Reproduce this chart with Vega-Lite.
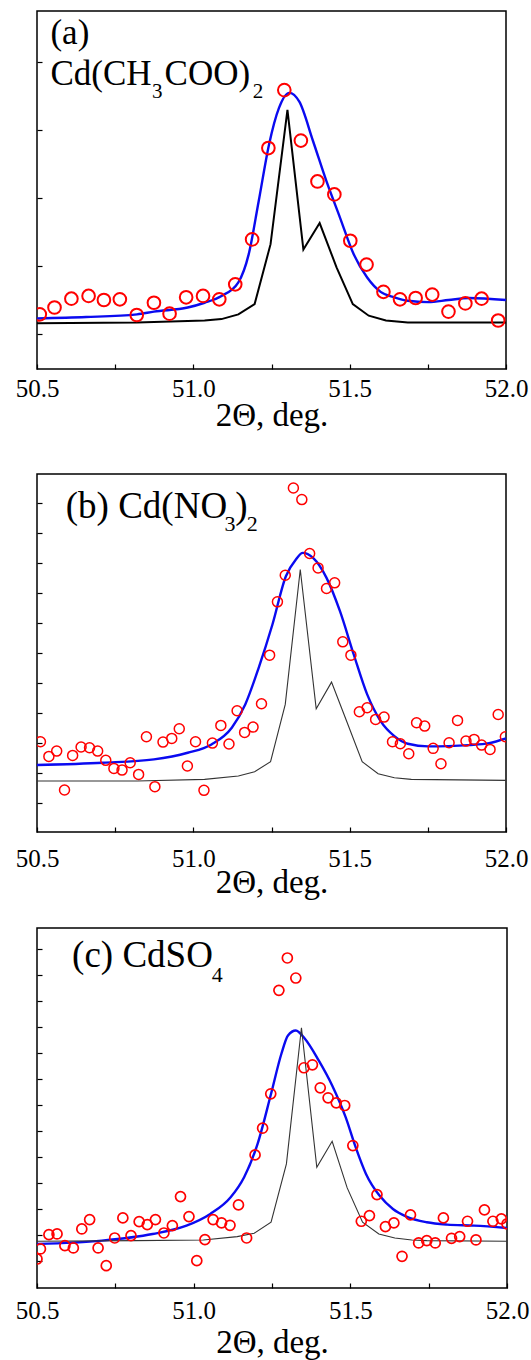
{
  "$schema": "https://vega.github.io/schema/vega-lite/v6.json",
  "background": "white",
  "padding": {"left": 14, "top": 10, "right": 0, "bottom": 0},
  "spacing": 105,
  "bounds": "flush",
  "config": {
    "font": "Liberation Serif, Times New Roman, serif",
    "view": {"stroke": "black", "strokeWidth": 1.5},
    "text": {"font": "Liberation Serif, Times New Roman, serif"},
    "axis": {"domain": false, "grid": false, "tickColor": "black", "tickWidth": 1.2,
      "labelFont": "Liberation Serif, Times New Roman, serif", "labelFontSize": 25, "labelColor": "black",
      "titleFont": "Liberation Serif, Times New Roman, serif", "titleFontSize": 33, "titleFontWeight": "normal", "titleColor": "black"}
  },
  "datasets": {
    "a_obs": [
      {"x": 50.509, "y": 0.29}, {"x": 50.556, "y": 0.39}, {"x": 50.610, "y": 0.52}, {"x": 50.665, "y": 0.56},
      {"x": 50.714, "y": 0.50}, {"x": 50.765, "y": 0.51}, {"x": 50.819, "y": 0.28}, {"x": 50.874, "y": 0.46},
      {"x": 50.924, "y": 0.30}, {"x": 50.977, "y": 0.54}, {"x": 51.031, "y": 0.56}, {"x": 51.083, "y": 0.51},
      {"x": 51.134, "y": 0.73}, {"x": 51.188, "y": 1.39}, {"x": 51.240, "y": 2.73}, {"x": 51.291, "y": 3.58},
      {"x": 51.344, "y": 2.84}, {"x": 51.397, "y": 2.24}, {"x": 51.451, "y": 2.05}, {"x": 51.502, "y": 1.37},
      {"x": 51.554, "y": 1.02}, {"x": 51.608, "y": 0.62}, {"x": 51.661, "y": 0.51}, {"x": 51.711, "y": 0.53},
      {"x": 51.764, "y": 0.58}, {"x": 51.816, "y": 0.33}, {"x": 51.870, "y": 0.45}, {"x": 51.922, "y": 0.52},
      {"x": 51.975, "y": 0.20}
    ],
    "a_fit": [
      {"x": 50.5, "y": 0.23}, {"x": 50.657, "y": 0.25}, {"x": 50.82, "y": 0.29}, {"x": 50.874, "y": 0.33},
      {"x": 50.982, "y": 0.39}, {"x": 51.036, "y": 0.46}, {"x": 51.090, "y": 0.56}, {"x": 51.144, "y": 0.76},
      {"x": 51.177, "y": 1.17}, {"x": 51.209, "y": 1.95}, {"x": 51.242, "y": 2.78}, {"x": 51.274, "y": 3.32},
      {"x": 51.307, "y": 3.54}, {"x": 51.339, "y": 3.41}, {"x": 51.383, "y": 2.83}, {"x": 51.426, "y": 2.24},
      {"x": 51.469, "y": 1.71}, {"x": 51.513, "y": 1.17}, {"x": 51.556, "y": 0.83}, {"x": 51.599, "y": 0.62},
      {"x": 51.643, "y": 0.54}, {"x": 51.686, "y": 0.49}, {"x": 51.751, "y": 0.47}, {"x": 51.816, "y": 0.50},
      {"x": 51.881, "y": 0.53}, {"x": 52.0, "y": 0.50}
    ],
    "a_calc": [
      {"x": 50.5, "y": 0.16}, {"x": 50.82, "y": 0.17}, {"x": 51.036, "y": 0.20}, {"x": 51.090, "y": 0.22},
      {"x": 51.144, "y": 0.29}, {"x": 51.196, "y": 0.44}, {"x": 51.247, "y": 1.32}, {"x": 51.301, "y": 3.29},
      {"x": 51.352, "y": 1.24}, {"x": 51.404, "y": 1.63}, {"x": 51.458, "y": 0.98}, {"x": 51.510, "y": 0.44},
      {"x": 51.561, "y": 0.27}, {"x": 51.616, "y": 0.20}, {"x": 51.686, "y": 0.17}, {"x": 52.0, "y": 0.17}
    ],
    "a_lab": [
      {"x": 50.543, "y": 4.254, "t": "(a)"},
      {"x": 50.543, "y": 3.659, "t": "Cd(CH"},
      {"x": 50.908, "y": 3.659, "t": "COO)"}
    ],
    "a_sub": [
      {"x": 50.868, "y": 3.463, "t": "3"},
      {"x": 51.190, "y": 3.463, "t": "2"}
    ],
    "b_obs": [
      {"x": 50.511, "y": 0.517}, {"x": 50.538, "y": 0.272}, {"x": 50.563, "y": 0.361}, {"x": 50.588, "y": -0.289},
      {"x": 50.614, "y": 0.289}, {"x": 50.641, "y": 0.428}, {"x": 50.668, "y": 0.417}, {"x": 50.694, "y": 0.361},
      {"x": 50.720, "y": 0.206}, {"x": 50.746, "y": 0.072}, {"x": 50.772, "y": 0.044}, {"x": 50.798, "y": 0.167},
      {"x": 50.825, "y": -0.028}, {"x": 50.850, "y": 0.600}, {"x": 50.877, "y": -0.233}, {"x": 50.903, "y": 0.511},
      {"x": 50.931, "y": 0.572}, {"x": 50.955, "y": 0.733}, {"x": 50.981, "y": 0.111}, {"x": 51.007, "y": 0.517},
      {"x": 51.034, "y": -0.294}, {"x": 51.061, "y": 0.494}, {"x": 51.088, "y": 0.789}, {"x": 51.114, "y": 0.478},
      {"x": 51.140, "y": 1.033}, {"x": 51.164, "y": 0.672}, {"x": 51.191, "y": 0.761}, {"x": 51.218, "y": 1.150},
      {"x": 51.244, "y": 1.961}, {"x": 51.269, "y": 2.850}, {"x": 51.294, "y": 3.294}, {"x": 51.320, "y": 4.750},
      {"x": 51.347, "y": 4.556}, {"x": 51.372, "y": 3.656}, {"x": 51.399, "y": 3.417}, {"x": 51.426, "y": 3.072},
      {"x": 51.452, "y": 3.167}, {"x": 51.478, "y": 2.183}, {"x": 51.504, "y": 1.961}, {"x": 51.531, "y": 1.017},
      {"x": 51.556, "y": 1.083}, {"x": 51.583, "y": 0.889}, {"x": 51.610, "y": 0.928}, {"x": 51.637, "y": 0.517},
      {"x": 51.662, "y": 0.483}, {"x": 51.689, "y": 0.317}, {"x": 51.714, "y": 0.833}, {"x": 51.740, "y": 0.778},
      {"x": 51.767, "y": 0.406}, {"x": 51.792, "y": 0.150}, {"x": 51.818, "y": 0.500}, {"x": 51.845, "y": 0.872},
      {"x": 51.872, "y": 0.528}, {"x": 51.898, "y": 0.556}, {"x": 51.922, "y": 0.461}, {"x": 51.949, "y": 0.389},
      {"x": 51.975, "y": 0.972}, {"x": 51.998, "y": 0.600}
    ],
    "b_fit": [
      {"x": 50.5, "y": 0.128}, {"x": 50.711, "y": 0.167}, {"x": 50.874, "y": 0.222}, {"x": 50.982, "y": 0.333},
      {"x": 51.058, "y": 0.472}, {"x": 51.123, "y": 0.750}, {"x": 51.166, "y": 1.139}, {"x": 51.209, "y": 1.750},
      {"x": 51.253, "y": 2.472}, {"x": 51.296, "y": 3.278}, {"x": 51.328, "y": 3.556}, {"x": 51.350, "y": 3.667},
      {"x": 51.383, "y": 3.583}, {"x": 51.426, "y": 3.250}, {"x": 51.469, "y": 2.694}, {"x": 51.513, "y": 1.972},
      {"x": 51.556, "y": 1.306}, {"x": 51.599, "y": 0.861}, {"x": 51.643, "y": 0.611}, {"x": 51.686, "y": 0.483},
      {"x": 51.751, "y": 0.439}, {"x": 51.816, "y": 0.444}, {"x": 51.881, "y": 0.461}, {"x": 51.946, "y": 0.494},
      {"x": 52.0, "y": 0.572}
    ],
    "b_calc": [
      {"x": 50.5, "y": -0.139}, {"x": 50.82, "y": -0.139}, {"x": 51.036, "y": -0.111}, {"x": 51.144, "y": -0.056},
      {"x": 51.196, "y": 0.017}, {"x": 51.247, "y": 0.183}, {"x": 51.294, "y": 1.139}, {"x": 51.342, "y": 3.389},
      {"x": 51.393, "y": 1.067}, {"x": 51.442, "y": 1.511}, {"x": 51.491, "y": 0.850}, {"x": 51.540, "y": 0.183},
      {"x": 51.591, "y": -0.017}, {"x": 51.643, "y": -0.083}, {"x": 51.697, "y": -0.111}, {"x": 52.0, "y": -0.128}
    ],
    "b_lab": [
      {"x": 50.592, "y": 4.25, "t": "(b) Cd(NO"},
      {"x": 51.134, "y": 4.25, "t": ")"}
    ],
    "b_sub": [
      {"x": 51.100, "y": 4.028, "t": "3"},
      {"x": 51.171, "y": 4.028, "t": "2"}
    ],
    "c_obs": [
      {"x": 50.500, "y": -0.462},
      {"x": 50.511, "y": -0.269}, {"x": 50.538, "y": 0.006}, {"x": 50.564, "y": 0.019}, {"x": 50.589, "y": -0.205},
      {"x": 50.616, "y": -0.250}, {"x": 50.643, "y": 0.115}, {"x": 50.668, "y": 0.295}, {"x": 50.695, "y": -0.250},
      {"x": 50.721, "y": -0.590}, {"x": 50.748, "y": -0.058}, {"x": 50.774, "y": 0.327}, {"x": 50.800, "y": -0.013},
      {"x": 50.826, "y": 0.256}, {"x": 50.852, "y": 0.199}, {"x": 50.878, "y": 0.295}, {"x": 50.905, "y": 0.038},
      {"x": 50.932, "y": 0.179}, {"x": 50.958, "y": 0.737}, {"x": 50.985, "y": 0.353}, {"x": 51.010, "y": -0.494},
      {"x": 51.036, "y": -0.090}, {"x": 51.062, "y": 0.295}, {"x": 51.089, "y": 0.231}, {"x": 51.116, "y": 0.186},
      {"x": 51.143, "y": 0.577}, {"x": 51.169, "y": -0.058}, {"x": 51.196, "y": 1.538}, {"x": 51.220, "y": 2.051},
      {"x": 51.246, "y": 2.712}, {"x": 51.272, "y": 4.699}, {"x": 51.299, "y": 5.321}, {"x": 51.326, "y": 4.936},
      {"x": 51.352, "y": 3.212}, {"x": 51.379, "y": 3.269}, {"x": 51.404, "y": 2.827}, {"x": 51.429, "y": 2.635},
      {"x": 51.455, "y": 2.538}, {"x": 51.482, "y": 2.487}, {"x": 51.508, "y": 1.718}, {"x": 51.535, "y": 0.263},
      {"x": 51.561, "y": 0.372}, {"x": 51.585, "y": 0.776}, {"x": 51.612, "y": 0.160}, {"x": 51.639, "y": 0.231},
      {"x": 51.665, "y": -0.410}, {"x": 51.692, "y": 0.385}, {"x": 51.718, "y": -0.154}, {"x": 51.744, "y": -0.109},
      {"x": 51.771, "y": -0.154}, {"x": 51.797, "y": 0.327}, {"x": 51.823, "y": -0.064}, {"x": 51.849, "y": -0.032},
      {"x": 51.874, "y": 0.263}, {"x": 51.901, "y": -0.096}, {"x": 51.928, "y": 0.481}, {"x": 51.955, "y": 0.263},
      {"x": 51.982, "y": 0.308}, {"x": 52.0, "y": 0.212}
    ],
    "c_fit": [
      {"x": 50.5, "y": -0.173}, {"x": 50.707, "y": -0.109}, {"x": 50.869, "y": 0.019}, {"x": 50.977, "y": 0.179},
      {"x": 51.053, "y": 0.404}, {"x": 51.118, "y": 0.724}, {"x": 51.161, "y": 1.109}, {"x": 51.204, "y": 1.750},
      {"x": 51.247, "y": 2.712}, {"x": 51.280, "y": 3.481}, {"x": 51.301, "y": 3.833}, {"x": 51.326, "y": 3.929},
      {"x": 51.355, "y": 3.769}, {"x": 51.399, "y": 3.353}, {"x": 51.442, "y": 2.872}, {"x": 51.485, "y": 2.263},
      {"x": 51.517, "y": 1.686}, {"x": 51.550, "y": 1.173}, {"x": 51.593, "y": 0.756}, {"x": 51.636, "y": 0.500},
      {"x": 51.679, "y": 0.353}, {"x": 51.744, "y": 0.244}, {"x": 51.809, "y": 0.199}, {"x": 51.895, "y": 0.179},
      {"x": 52.0, "y": 0.135}
    ],
    "c_calc": [
      {"x": 50.5, "y": -0.122}, {"x": 50.815, "y": -0.109}, {"x": 51.031, "y": -0.096}, {"x": 51.139, "y": -0.032},
      {"x": 51.193, "y": 0.032}, {"x": 51.247, "y": 0.244}, {"x": 51.296, "y": 1.365}, {"x": 51.344, "y": 3.981},
      {"x": 51.393, "y": 1.301}, {"x": 51.442, "y": 1.801}, {"x": 51.490, "y": 0.904}, {"x": 51.539, "y": 0.244},
      {"x": 51.591, "y": 0.019}, {"x": 51.642, "y": -0.058}, {"x": 51.696, "y": -0.096}, {"x": 51.744, "y": -0.109},
      {"x": 52.0, "y": -0.122}
    ],
    "c_lab": [
      {"x": 50.612, "y": 5.147, "t": "(c) CdSO"}
    ],
    "c_sub": [
      {"x": 51.058, "y": 4.859, "t": "4"}
    ]
  },
  "vconcat": [
    {
      "width": 469, "height": 358,
      "encoding": {
        "x": {"field": "x", "type": "quantitative",
          "scale": {"domain": [50.5, 52.0], "nice": false, "zero": false},
          "axis": {"values": [50.5, 50.75, 51.0, 51.25, 51.5, 51.75, 52.0],
            "labelExpr": "(round(datum.value*4) % 2 == 0) ? format(datum.value, '.1f') : ''",
            "tickSize": -5, "labelPadding": 12, "titlePadding": -2, "labelOverlap": false, "labelFlush": false,
            "title": "2Θ, deg."}},
        "y": {"field": "y", "type": "quantitative",
          "scale": {"domain": [-0.512, 4.741], "nice": false, "zero": false},
          "axis": {"values": [0, 1, 2, 3, 4], "labels": false, "tickSize": -5, "title": null}}
      },
      "layer": [
        {"data": {"name": "a_fit"}, "mark": {"type": "line", "color": "#0a0af0", "strokeWidth": 2.4, "interpolate": "monotone", "clip": true}},
        {"data": {"name": "a_calc"}, "mark": {"type": "line", "color": "black", "strokeWidth": 2, "clip": true}},
        {"data": {"name": "a_obs"}, "mark": {"type": "point", "shape": "circle", "filled": false, "color": "#ff0000", "strokeWidth": 2, "size": 160, "opacity": 1, "clip": true}},
        {"data": {"name": "a_lab"}, "mark": {"type": "text", "align": "left", "baseline": "alphabetic", "fontSize": 35, "color": "black"}, "encoding": {"text": {"field": "t"}}},
        {"data": {"name": "a_sub"}, "mark": {"type": "text", "align": "left", "baseline": "alphabetic", "fontSize": 21, "color": "black"}, "encoding": {"text": {"field": "t"}}}
      ]
    },
    {
      "spacing": 96,
      "bounds": "flush",
      "vconcat": [
        {
          "width": 469, "height": 358,
          "encoding": {
            "x": {"field": "x", "type": "quantitative",
              "scale": {"domain": [50.5, 52.0], "nice": false, "zero": false},
              "axis": {"values": [50.5, 50.75, 51.0, 51.25, 51.5, 51.75, 52.0],
                "labelExpr": "(round(datum.value*4) % 2 == 0) ? format(datum.value, '.1f') : ''",
                "tickSize": -5, "labelPadding": 19, "titlePadding": -5, "labelOverlap": false, "labelFlush": false,
                "title": "2Θ, deg."}},
            "y": {"field": "y", "type": "quantitative",
              "scale": {"domain": [-0.989, 4.983], "nice": false, "zero": false},
              "axis": {"values": [-0.5, 0, 0.5, 1, 1.5, 2, 2.5, 3, 3.5, 4, 4.5], "labels": false, "tickSize": -5, "title": null}}
          },
          "layer": [
            {"data": {"name": "b_fit"}, "mark": {"type": "line", "color": "#0a0af0", "strokeWidth": 2.4, "interpolate": "monotone", "clip": true}},
            {"data": {"name": "b_calc"}, "mark": {"type": "line", "color": "#333333", "strokeWidth": 1.1, "clip": true}},
            {"data": {"name": "b_obs"}, "mark": {"type": "point", "shape": "circle", "filled": false, "color": "#ff0000", "strokeWidth": 1.5, "size": 100, "opacity": 1, "clip": true}},
            {"data": {"name": "b_lab"}, "mark": {"type": "text", "align": "left", "baseline": "alphabetic", "fontSize": 37, "color": "black"}, "encoding": {"text": {"field": "t"}}},
            {"data": {"name": "b_sub"}, "mark": {"type": "text", "align": "left", "baseline": "alphabetic", "fontSize": 22, "color": "black"}, "encoding": {"text": {"field": "t"}}}
          ]
        },
        {
          "width": 470, "height": 360,
          "encoding": {
            "x": {"field": "x", "type": "quantitative",
              "scale": {"domain": [50.5, 52.0], "nice": false, "zero": false},
              "axis": {"values": [50.5, 50.75, 51.0, 51.25, 51.5, 51.75, 52.0],
                "labelExpr": "(round(datum.value*4) % 2 == 0) ? format(datum.value, '.1f') : ''",
                "tickSize": -5, "labelPadding": 15, "titlePadding": 3, "labelOverlap": false, "labelFlush": false,
                "title": "2Θ, deg."}},
            "y": {"field": "y", "type": "quantitative",
              "scale": {"domain": [-1.019, 5.897], "nice": false, "zero": false},
              "axis": {"values": [-0.5, 0, 0.5, 1, 1.5, 2, 2.5, 3, 3.5, 4, 4.5, 5, 5.5], "labels": false, "tickSize": -5, "title": null}}
          },
          "layer": [
            {"data": {"name": "c_fit"}, "mark": {"type": "line", "color": "#0a0af0", "strokeWidth": 2.4, "interpolate": "monotone", "clip": true}},
            {"data": {"name": "c_calc"}, "mark": {"type": "line", "color": "#333333", "strokeWidth": 1.1, "clip": true}},
            {"data": {"name": "c_obs"}, "mark": {"type": "point", "shape": "circle", "filled": false, "color": "#ff0000", "strokeWidth": 1.7, "size": 100, "opacity": 1, "clip": true}},
            {"data": {"name": "c_lab"}, "mark": {"type": "text", "align": "left", "baseline": "alphabetic", "fontSize": 37, "color": "black"}, "encoding": {"text": {"field": "t"}}},
            {"data": {"name": "c_sub"}, "mark": {"type": "text", "align": "left", "baseline": "alphabetic", "fontSize": 22, "color": "black"}, "encoding": {"text": {"field": "t"}}}
          ]
        }
      ]
    }
  ]
}
